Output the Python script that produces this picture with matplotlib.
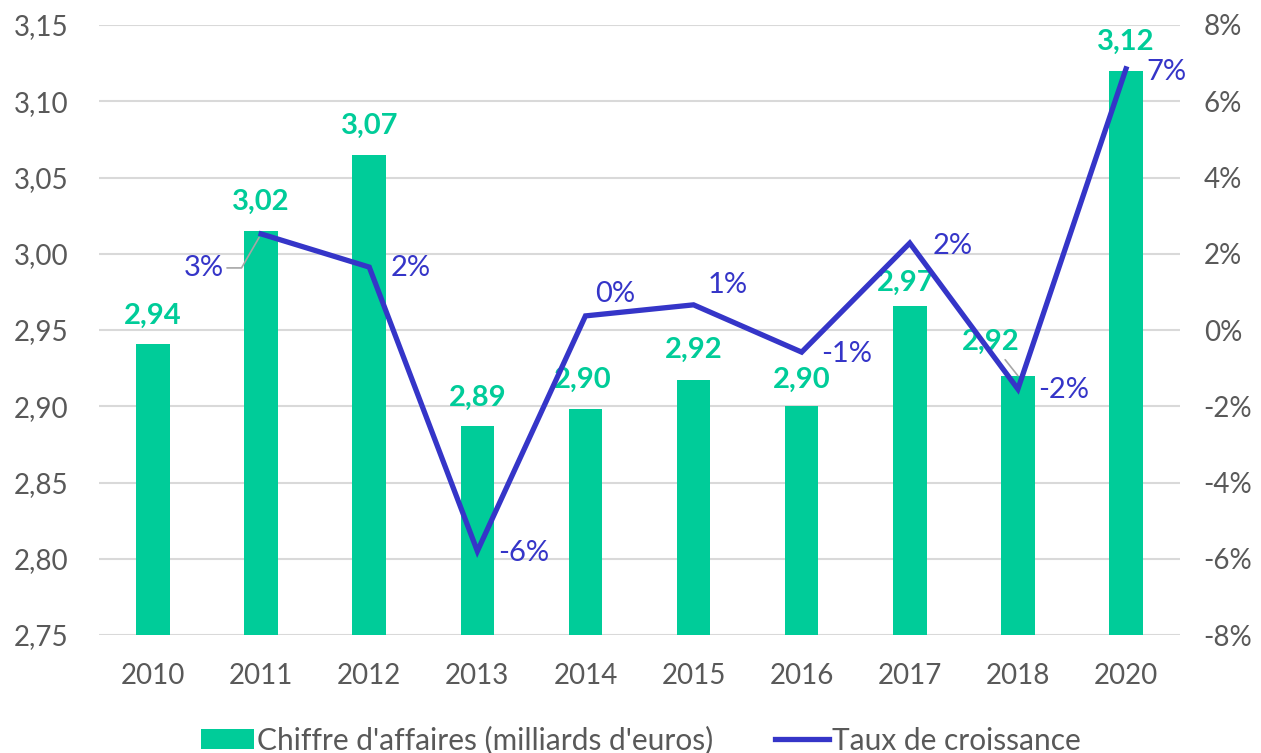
import matplotlib.pyplot as plt
from matplotlib.patches import Patch
from matplotlib.lines import Line2D
from matplotlib.ticker import FuncFormatter

plt.rcParams['font.family'] = ['Lato', 'DejaVu Sans']

years = ['2010', '2011', '2012', '2013', '2014', '2015', '2016', '2017', '2018', '2020']
ca = [2.941, 3.015, 3.065, 2.887, 2.898, 2.917, 2.900, 2.966, 2.920, 3.120]
ca_labels = ['2,94', '3,02', '3,07', '2,89', '2,90', '2,92', '2,90', '2,97', '2,92', '3,12']
growth = [None, 2.52, 1.65, -5.80, 0.37, 0.66, -0.58, 2.28, -1.55, 6.85]
growth_labels = ['', '3%', '2%', '-6%', '0%', '1%', '-1%', '2%', '-2%', '7%']

GREEN = '#00CC99'
BLUE = '#3535C8'
GREY = '#595959'
GRID = '#D9D9D9'

# label offsets in pixels (dx, dy) from the mark
ca_off = [(0, 28), (0, 29), (0, 29), (0, 28), (-3, 29), (0, 30), (0, 26), (-4, 23), (-27, 34), (0, 29)]
gr_off = [None, (-57, -34), (41, -1), (46, -2), (30, 22), (34, 20), (45, -2), (43, -3), (46, -1), (40, -3)]

fig = plt.figure(figsize=(12.61, 7.53), dpi=100)
ax = fig.add_axes([0.0785, 0.1567, 0.8573, 0.8101])
x = list(range(len(years)))
ax.bar(x, ca, width=0.31, color=GREEN, zorder=2)
ax.set_ylim(2.75, 3.15)
ax.set_xlim(-0.5, len(years) - 0.5)
ax.set_yticks([2.75, 2.80, 2.85, 2.90, 2.95, 3.00, 3.05, 3.10, 3.15])
ax.yaxis.set_major_formatter(FuncFormatter(lambda v, p: f'{v:.2f}'.replace('.', ',')))
ax.set_xticks(x)
ax.set_xticklabels(years)
ax.grid(axis='y', color=GRID, linewidth=1.5, zorder=0)
for s in ax.spines.values():
    s.set_visible(False)
ax.tick_params(axis='both', length=0, labelsize=20, labelcolor=GREY)
ax.tick_params(axis='y', pad=22)
ax.tick_params(axis='x', pad=20)

ax2 = ax.twinx()
gx = [i for i, g in enumerate(growth) if g is not None]
gy = [g for g in growth if g is not None]
ax2.plot(gx, gy, color=BLUE, linewidth=3.8, solid_joinstyle='miter', zorder=3)
ax2.set_ylim(-8, 8)
ax2.set_yticks(range(-8, 9, 2))
ax2.yaxis.set_major_formatter(FuncFormatter(lambda v, p: f'{v:.0f}%'))
for s in ax2.spines.values():
    s.set_visible(False)
ax2.tick_params(axis='y', length=0, labelsize=20, labelcolor=GREY, pad=17)

for i in x:
    dx, dy = ca_off[i]
    props = None
    if i == 8:
        props = dict(arrowstyle='-', color='#A6A6A6', lw=1.2, shrinkA=2, shrinkB=0)
    ax.annotate(ca_labels[i], (i, ca[i]), xytext=(dx, dy), textcoords='offset pixels',
                ha='center', va='center', fontsize=21, fontweight='bold', color=GREEN,
                arrowprops=props, zorder=4)

for i in gx:
    dx, dy = gr_off[i]
    props = None
    if i == 1:
        props = dict(arrowstyle='-', color='#A6A6A6', lw=1.2, shrinkA=0, shrinkB=3,
                     connectionstyle='angle,angleA=0,angleB=60,rad=0')
    ax2.annotate(growth_labels[i], (i, growth[i]), xytext=(dx, dy), textcoords='offset pixels',
                 ha='center', va='center', fontsize=21, color=BLUE, arrowprops=props, zorder=5)

handles = [Patch(facecolor=GREEN, edgecolor='none'), Line2D([0], [0], color=BLUE, linewidth=3.8)]
fig.legend(handles, ["Chiffre d'affaires (milliards d'euros)", 'Taux de croissance'],
           loc='center', bbox_to_anchor=(0.508, 0.017), ncol=2, frameon=False,
           fontsize=21.5, labelcolor=GREY, handlelength=1.8, handleheight=0.65,
           handletextpad=0.1, columnspacing=2.05)

fig.savefig('out.png', dpi=100)
